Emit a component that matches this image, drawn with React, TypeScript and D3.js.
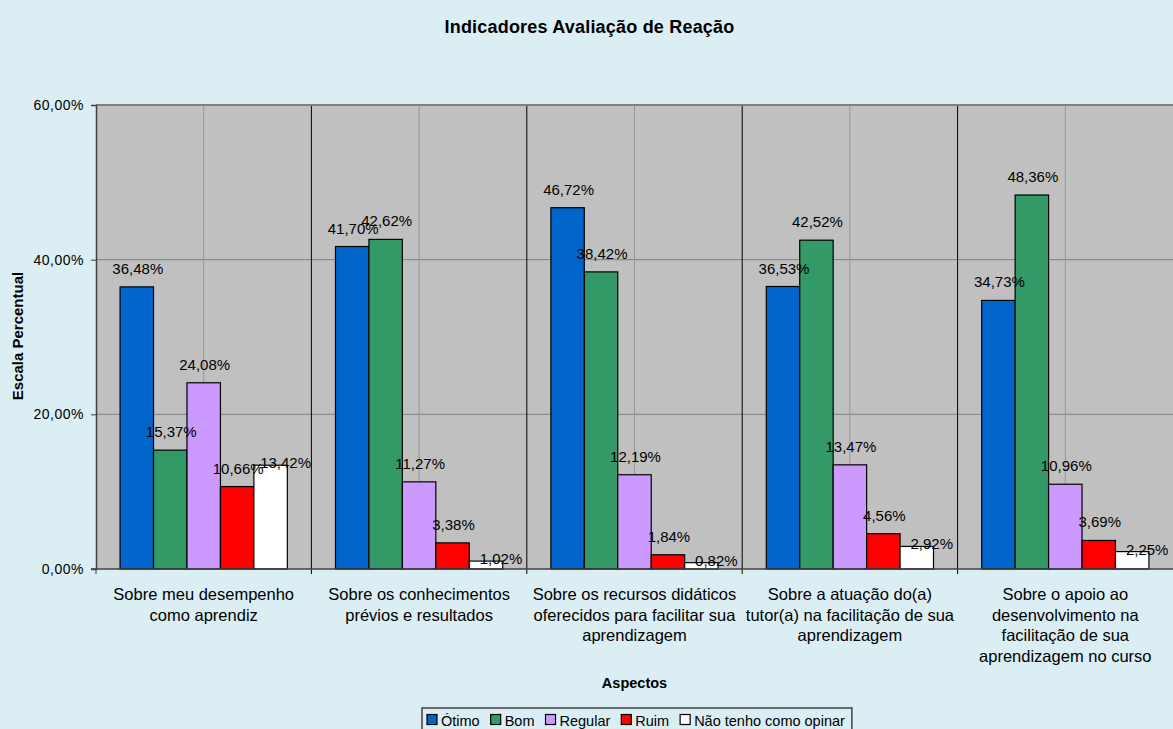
import React, { useEffect, useRef } from 'react';
import * as d3 from 'd3';

const categories = [
  ['Sobre meu desempenho', 'como aprendiz'],
  ['Sobre os conhecimentos', 'prévios e resultados'],
  ['Sobre os recursos didáticos', 'oferecidos para facilitar sua', 'aprendizagem'],
  ['Sobre a atuação do(a)', 'tutor(a) na facilitação de sua', 'aprendizagem'],
  ['Sobre o apoio ao', 'desenvolvimento na', 'facilitação de sua', 'aprendizagem no curso'],
];

const seriesNames = ['Ótimo', 'Bom', 'Regular', 'Ruim', 'Não tenho como opinar'];
const seriesColors = ['#0066CC', '#339966', '#CC99FF', '#FF0000', '#FFFFFF'];

const otimo = [36.48, 41.7, 46.72, 36.53, 34.73];
const bom = [15.37, 42.62, 38.42, 42.52, 48.36];
const regular = [24.08, 11.27, 12.19, 13.47, 10.96];
const ruim = [10.66, 3.38, 1.84, 4.56, 3.69];
const naoOpinar = [13.42, 1.02, 0.82, 2.92, 2.25];

const yTicks = [0, 20, 40, 60];

const fmt = (v: number) => v.toFixed(2).replace('.', ',') + '%';

export default function App() {
  const svgRef = useRef<SVGSVGElement>(null);

  useEffect(() => {
    const width = 1173;
    const height = 729;
    const margin = { top: 105, right: 0, bottom: 160, left: 96 };
    const font = "'Liberation Sans', Arial, sans-serif";
    const series = [otimo, bom, regular, ruim, naoOpinar];

    const svg = d3.select(svgRef.current);
    svg.selectAll('*').remove();
    svg.attr('width', width).attr('height', height).style('font-family', font);

    svg.append('rect').attr('width', width).attr('height', height).attr('fill', '#DBEEF4');

    const x0 = d3.scaleBand<number>()
      .domain(d3.range(categories.length))
      .range([margin.left, width - margin.right]);

    const x1 = d3.scaleBand<number>()
      .domain(d3.range(series.length))
      .range([0, x0.bandwidth()])
      .paddingOuter(0.72)
      .paddingInner(0);

    const y = d3.scaleLinear()
      .domain([0, 60])
      .range([height - margin.bottom, margin.top]);

    // plot area
    svg.append('rect')
      .attr('x', margin.left)
      .attr('y', margin.top)
      .attr('width', width - margin.left - margin.right)
      .attr('height', y(0) - margin.top)
      .attr('fill', '#C0C0C0');

    // horizontal grid
    svg.append('g')
      .selectAll('line')
      .data(yTicks.filter(t => t > 0))
      .join('line')
      .attr('x1', margin.left)
      .attr('x2', width)
      .attr('y1', d => y(d))
      .attr('y2', d => y(d))
      .attr('stroke', '#808080')
      .attr('stroke-width', 1);

    // vertical grid at category centers
    svg.append('g')
      .selectAll('line')
      .data(d3.range(categories.length))
      .join('line')
      .attr('x1', d => x0(d)! + x0.bandwidth() / 2)
      .attr('x2', d => x0(d)! + x0.bandwidth() / 2)
      .attr('y1', margin.top)
      .attr('y2', y(0))
      .attr('stroke', '#969696')
      .attr('stroke-width', 1);

    // category separators / x ticks
    svg.append('g')
      .selectAll('line')
      .data(d3.range(0, categories.length))
      .join('line')
      .attr('x1', d => x0(d)!)
      .attr('x2', d => x0(d)!)
      .attr('y1', d => (d === 0 ? y(0) : margin.top))
      .attr('y2', y(0) + 5)
      .attr('stroke', d => (d === 0 ? '#404040' : '#000'))
      .attr('stroke-width', 1);

    // bars
    const groups = svg.append('g')
      .selectAll('g')
      .data(d3.range(categories.length))
      .join('g')
      .attr('transform', d => `translate(${x0(d)},0)`);

    groups.selectAll('rect')
      .data(c => series.map((s, i) => ({ i, v: s[c] })))
      .join('rect')
      .attr('x', d => x1(d.i)!)
      .attr('y', d => y(d.v))
      .attr('width', x1.bandwidth())
      .attr('height', d => y(0) - y(d.v))
      .attr('fill', d => seriesColors[d.i])
      .attr('stroke', '#000')
      .attr('stroke-width', 1.2);

    // data labels (last series sits off to the right of its bar)
    groups.selectAll('text')
      .data(c => series.map((s, i) => ({ i, v: s[c] })))
      .join('text')
      .attr('x', d => x1(d.i)! + x1.bandwidth() / 2 + (d.i === 4 ? 15 : 1))
      .attr('y', d => y(d.v) + (d.i === 4 ? 3 : -13))
      .attr('text-anchor', 'middle')
      .attr('font-size', 15)
      .attr('fill', '#000')
      .text(d => fmt(d.v));

    // top border
    svg.append('line')
      .attr('x1', margin.left).attr('x2', width)
      .attr('y1', margin.top).attr('y2', margin.top)
      .attr('stroke', '#808080').attr('stroke-width', 2);

    // y axis
    const yAxis = d3.axisLeft(y)
      .tickValues(yTicks)
      .tickSize(5)
      .tickPadding(7)
      .tickFormat(d => fmt(+d));
    const yg = svg.append('g')
      .attr('transform', `translate(${margin.left},0)`)
      .call(yAxis);
    yg.select('.domain').attr('stroke', '#404040').attr('stroke-width', 1.5);
    yg.selectAll('.tick line').attr('stroke', '#404040');
    yg.selectAll('.tick text')
      .attr('font-size', 14)
      .attr('font-family', font)
      .attr('letter-spacing', 0.5)
      .attr('fill', '#000');

    // x axis line
    svg.append('line')
      .attr('x1', margin.left - 5).attr('x2', width)
      .attr('y1', y(0)).attr('y2', y(0))
      .attr('stroke', '#404040').attr('stroke-width', 1.5);

    // category labels
    svg.append('g')
      .selectAll('text')
      .data(categories)
      .join('text')
      .attr('text-anchor', 'middle')
      .attr('font-size', 16.5)
      .attr('fill', '#000')
      .each(function (lines, i) {
        d3.select(this)
          .selectAll('tspan')
          .data(lines)
          .join('tspan')
          .attr('x', x0(i)! + x0.bandwidth() / 2)
          .attr('y', (_, j) => y(0) + 31 + j * 20.5)
          .text(l => l);
      });

    // title
    svg.append('text')
      .attr('x', 589.5)
      .attr('y', 33)
      .attr('text-anchor', 'middle')
      .attr('font-size', 18)
      .attr('letter-spacing', 0.2)
      .attr('font-weight', 'bold')
      .text('Indicadores Avaliação de Reação');

    // axis titles
    svg.append('text')
      .attr('x', (margin.left + width) / 2)
      .attr('y', 688)
      .attr('text-anchor', 'middle')
      .attr('font-size', 14.5)
      .attr('font-weight', 'bold')
      .text('Aspectos');

    svg.append('text')
      .attr('transform', `translate(23,336) rotate(-90)`)
      .attr('text-anchor', 'middle')
      .attr('font-size', 15)
      .attr('font-weight', 'bold')
      .text('Escala Percentual');

    // legend
    const legend = svg.append('g');
    const box = legend.append('rect')
      .attr('y', 708)
      .attr('height', 30)
      .attr('fill', '#DBEEF4')
      .attr('stroke', '#404040')
      .attr('stroke-width', 1.5);
    let lx = 427;
    seriesNames.forEach((name, i) => {
      legend.append('rect')
        .attr('x', lx)
        .attr('y', 714.5)
        .attr('width', 10)
        .attr('height', 10)
        .attr('fill', seriesColors[i])
        .attr('stroke', '#000')
        .attr('stroke-width', 1.2);
      const t = legend.append('text')
        .attr('x', lx + 14)
        .attr('y', 726)
        .attr('font-size', 14.5)
        .text(name);
      const w = (t.node() as SVGTextElement).getComputedTextLength();
      lx += 14 + w + 11;
    });
    box.attr('x', 422).attr('width', lx - 422 - 4);
  }, []);

  return (
    <div style={{ position: 'absolute', left: 0, top: 0 }}>
      <svg ref={svgRef}></svg>
    </div>
  );
}
